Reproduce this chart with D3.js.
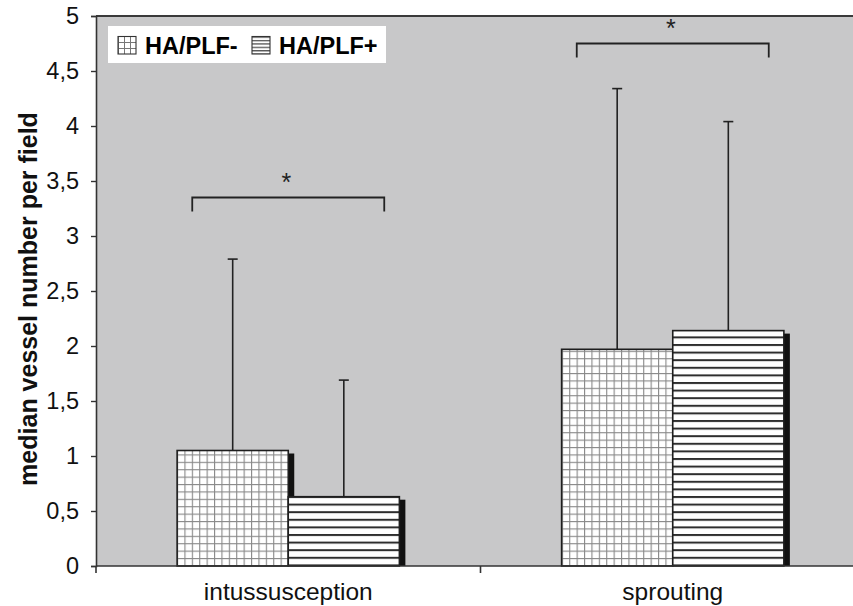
<!DOCTYPE html>
<html>
<head>
<meta charset="utf-8">
<script src="https://cdn.jsdelivr.net/npm/d3@7/dist/d3.min.js"></script>
<style>
  html, body { margin: 0; padding: 0; background: #fff; }
  svg { display: block; font-family: "Liberation Sans", Arial, sans-serif; }
</style>
</head>
<body>
<svg id="chart" width="853" height="606"></svg>
<script>
// ---- data ----
const categories = ["intussusception", "sprouting"];
const seriesNames = ["HA/PLF-", "HA/PLF+"];
const medianMinus = [1.05, 1.97];
const medianPlus = [0.63, 2.14];
const upperMinus = [2.79, 4.34];
const upperPlus = [1.69, 4.04];
const yTicks = [0, 0.5, 1, 1.5, 2, 2.5, 3, 3.5, 4, 4.5, 5];
const sigLevels = [3.35, 4.75];
const sigLabels = ["*", "*"];
const yTitle = "median vessel number per field";

(function () {
// ---- layout ----
const svg = d3.select("#chart");
const pL = 96, pR = 865, pT = 16, pB = 566;

const y = d3.scaleLinear().domain([0, 5]).range([pB, pT]);
const x0 = d3.scaleBand().domain(categories).range([pL, pR]).paddingInner(0).paddingOuter(0);
const x1 = d3.scaleBand().domain(seriesNames).range([0, x0.bandwidth()]).paddingInner(0).paddingOuter(0.73);

// patterns
const defs = svg.append("defs");
const grid = defs.append("pattern").attr("id", "grid").attr("patternUnits", "userSpaceOnUse")
  .attr("width", 7.4).attr("height", 7.4).attr("x", 177).attr("y", 3);
grid.append("rect").attr("width", 7.4).attr("height", 7.4).attr("fill", "#fff");
grid.append("line").attr("x1", 0.5).attr("x2", 0.5).attr("y1", 0).attr("y2", 7.4).attr("stroke", "#888").attr("stroke-width", 1.2);
grid.append("line").attr("y1", 0.5).attr("y2", 0.5).attr("x1", 0).attr("x2", 7.4).attr("stroke", "#888").attr("stroke-width", 1.2);

const stripes = defs.append("pattern").attr("id", "stripes").attr("patternUnits", "userSpaceOnUse")
  .attr("width", 10).attr("height", 7.6).attr("x", 0).attr("y", 2);
stripes.append("rect").attr("width", 10).attr("height", 7.6).attr("fill", "#fff");
stripes.append("rect").attr("y", 0).attr("width", 10).attr("height", 2).attr("fill", "#2e2e2e");

const lgrid = defs.append("pattern").attr("id", "lgrid").attr("patternUnits", "userSpaceOnUse")
  .attr("width", 6).attr("height", 6).attr("x", 119).attr("y", 37);
lgrid.append("rect").attr("width", 6).attr("height", 6).attr("fill", "#fff");
lgrid.append("line").attr("x1", 5.5).attr("x2", 5.5).attr("y1", 0).attr("y2", 6).attr("stroke", "#777").attr("stroke-width", 1);
lgrid.append("line").attr("y1", 5.5).attr("y2", 5.5).attr("x1", 0).attr("x2", 6).attr("stroke", "#777").attr("stroke-width", 1);

const lstripes = defs.append("pattern").attr("id", "lstripes").attr("patternUnits", "userSpaceOnUse")
  .attr("width", 10).attr("height", 3.4).attr("x", 0).attr("y", 36.5);
lstripes.append("rect").attr("width", 10).attr("height", 3.4).attr("fill", "#fff");
lstripes.append("rect").attr("y", 0).attr("width", 10).attr("height", 1.3).attr("fill", "#555");

// plot background
svg.append("rect").attr("x", pL).attr("y", pT).attr("width", pR - pL).attr("height", pB - pT)
  .attr("fill", "#c8c8c9");
svg.append("line").attr("x1", pL).attr("x2", pR).attr("y1", pT).attr("y2", pT)
  .attr("stroke", "#3a3a3a").attr("stroke-width", 2);

// bars
const fills = { "HA/PLF-": "url(#grid)", "HA/PLF+": "url(#stripes)" };
const rows = [];
categories.forEach((c, i) => {
  rows.push({ cat: c, s: seriesNames[0], v: medianMinus[i], up: upperMinus[i] });
  rows.push({ cat: c, s: seriesNames[1], v: medianPlus[i], up: upperPlus[i] });
});

const bw = x1.bandwidth();
rows.forEach(d => {
  const bx = x0(d.cat) + x1(d.s);
  const cx = bx + bw / 2;
  svg.append("line").attr("x1", cx).attr("x2", cx).attr("y1", y(d.v)).attr("y2", y(d.up))
    .attr("stroke", "#222").attr("stroke-width", 1.6);
  svg.append("line").attr("x1", cx - 5).attr("x2", cx + 5).attr("y1", y(d.up)).attr("y2", y(d.up))
    .attr("stroke", "#222").attr("stroke-width", 1.6);
  svg.append("rect").attr("x", bx + 6).attr("y", y(d.v) + 3).attr("width", bw).attr("height", pB - y(d.v) - 3)
    .attr("fill", "#111");
  svg.append("rect").attr("x", bx).attr("y", y(d.v)).attr("width", bw).attr("height", pB - y(d.v))
    .attr("fill", fills[d.s]).attr("stroke", "#1e1e1e").attr("stroke-width", 1.6);
});

// axes
const yAxis = svg.append("g").attr("transform", `translate(${pL},0)`)
  .call(d3.axisLeft(y).tickValues(yTicks).tickSize(5).tickPadding(12)
    .tickFormat(d => String(d).replace(".", ",")));
yAxis.select(".domain").attr("stroke", "#333").attr("stroke-width", 1.6);
yAxis.selectAll(".tick line").attr("stroke", "#333").attr("stroke-width", 1.4);
yAxis.selectAll(".tick text").attr("font-size", 23.5).attr("fill", "#111")
  .attr("font-family", "Liberation Sans, Arial, sans-serif");

const xAxis = svg.append("g").attr("transform", `translate(0,${pB})`)
  .call(d3.axisBottom(x0).tickSize(0).tickPadding(17));
xAxis.select(".domain").remove();
xAxis.selectAll(".tick text").attr("font-size", 24.5).attr("fill", "#111")
  .attr("font-family", "Liberation Sans, Arial, sans-serif");
svg.append("line").attr("x1", pL).attr("x2", pR).attr("y1", pB).attr("y2", pB)
  .attr("stroke", "#333").attr("stroke-width", 1.6);
const bounds = categories.map(c => x0(c)).concat([x0(categories[categories.length - 1]) + x0.bandwidth()]);
svg.selectAll(".xb").data(bounds).enter().append("line")
  .attr("x1", d => d).attr("x2", d => d).attr("y1", pB).attr("y2", pB + 7)
  .attr("stroke", "#333").attr("stroke-width", 1.6);

// y title
svg.append("text").attr("transform", `translate(28,299) rotate(-90)`)
  .attr("text-anchor", "middle").attr("dominant-baseline", "central")
  .attr("font-size", 25).attr("font-weight", "bold").attr("fill", "#111").text(yTitle);

// significance brackets
categories.forEach((c, i) => {
  const cx = x0(c) + x0.bandwidth() / 2;
  const l = cx - 96, r = cx + 96, yy = y(sigLevels[i]);
  svg.append("path").attr("d", `M${l},${yy + 14}V${yy}H${r}V${yy + 14}`)
    .attr("fill", "none").attr("stroke", "#222").attr("stroke-width", 1.8);
  svg.append("text").attr("x", (l + r) / 2 - 2).attr("y", yy - 6.5)
    .attr("text-anchor", "middle").attr("font-size", 25).attr("fill", "#222").text(sigLabels[i]);
});

// legend
const lg = svg.append("g");
lg.append("rect").attr("x", 108).attr("y", 26).attr("width", 278).attr("height", 37).attr("fill", "#fff");
const lfills = ["url(#lgrid)", "url(#lstripes)"];
const lx = [118, 252];
seriesNames.forEach((s, i) => {
  lg.append("rect").attr("x", lx[i]).attr("y", 36.5).attr("width", 18).attr("height", 17.5)
    .attr("fill", lfills[i]).attr("stroke", "#333").attr("stroke-width", 1.1);
  lg.append("text").attr("x", lx[i] + 27).attr("y", 54).attr("font-size", 23.5).attr("font-weight", "bold")
    .attr("fill", "#000").text(s);
});
})();
</script>
</body>
</html>
